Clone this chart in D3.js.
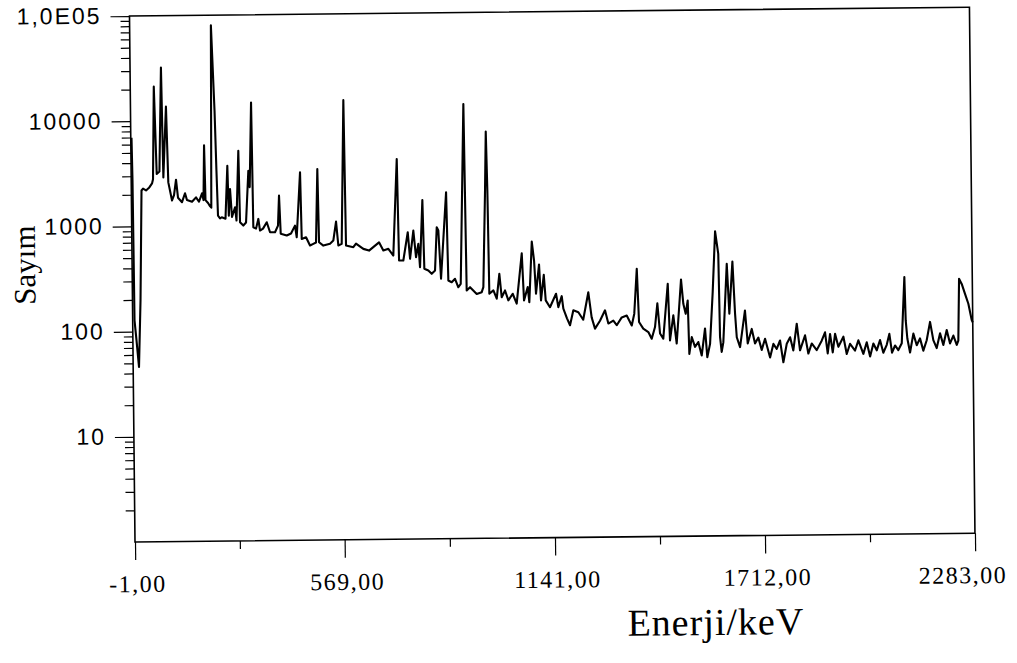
<!DOCTYPE html>
<html>
<head>
<meta charset="utf-8">
<script src="https://cdn.jsdelivr.net/npm/d3@7"></script>
<style>
  body { margin: 0; background: #fff; }
  svg { display: block; }
</style>
</head>
<body>
<div id="chart"></div>
<script>
// spectrum: energy (keV) and counts
const energy = [
  1.0, 2.5, 3.3, 4.0, 8.8, 14.9, 20.9, 26.7, 30.9, 39, 47.2, 55.5, 58.3, 63, 68.5, 76, 83, 86.5,
  95.5, 99.8, 109.4, 115, 120.8, 125.8, 136.5, 144.9, 150, 163.7, 174.7, 182.7, 191.1, 195, 198,
  200.4, 207.2, 212.5, 216, 220, 227.5, 231, 234, 239.4, 244, 254.3, 260.7, 263.4, 267.4, 272,
  280.5, 284.2, 291, 293.7, 302.5, 310, 317.7, 321, 327, 329.7, 337, 343.5, 347.8, 356, 366.3,
  375, 388.5, 396.8, 400.4, 404, 420.3, 432, 443, 447.4, 458.2, 461, 472.7, 483.3, 492.3, 499.7,
  505.3, 508, 519.5, 537.7, 546.8, 554.7, 560.3, 569.5, 578, 581.2, 601, 608.4, 628.2, 643.6,
  671, 682.5, 696.2, 709.5, 721.5, 725, 736.6, 749.4, 754.9, 764.6, 771.2, 777.8, 781.8, 790,
  793.5, 804.3, 813.4, 822.5, 828.3, 832.6, 838.6, 854.7, 858.4, 867.5, 876.6, 885.4, 892, 904.2,
  908, 917.2, 935.2, 948.8, 953.4, 960.7, 964.3, 967, 969.5, 980.6, 989.5, 997.2, 1003, 1012.3,
  1021, 1033, 1043.6, 1058.7, 1063.6, 1074, 1078, 1086.3, 1092, 1096.4, 1105.4, 1109.8, 1118,
  1122.6, 1134, 1150.8, 1156.7, 1166.2, 1170.3, 1179.9, 1188, 1197.4, 1211, 1224, 1238.6, 1247,
  1255.8, 1269.6, 1283.5, 1292.2, 1305.8, 1315, 1328.8, 1342.4, 1355.8, 1363, 1371, 1375.7, 1387,
  1400.7, 1409.7, 1419, 1426, 1432.5, 1441.2, 1454.8, 1459.4, 1469.1, 1477.5, 1491, 1496.6,
  1502.8, 1508.6, 1511.6, 1518.6, 1527.2, 1536.3, 1545.2, 1554.9, 1560.3, 1568.2, 1576.8, 1585,
  1593, 1595.5, 1599.6, 1604.3, 1615.8, 1621.5, 1631.2, 1637, 1641, 1649.7, 1664, 1670.6, 1681.9,
  1690.5, 1699.7, 1708.5, 1717.8, 1731, 1740.3, 1749.3, 1758.5, 1767, 1776.7, 1786, 1794.4,
  1804.4, 1812.6, 1826.7, 1835.1, 1844.6, 1858, 1871.8, 1881.1, 1887.8, 1894.7, 1901.5, 1908.3,
  1917, 1930.9, 1939.5, 1948.8, 1962.2, 1971.5, 1984.7, 1994.2, 2003, 2012.2, 2021.2, 2030.4,
  2039, 2048.5, 2055.9, 2062.7, 2071.1, 2079.9, 2089.4, 2098.3, 2100.8, 2104.7, 2111.7, 2121.2,
  2130.1, 2139.1, 2147.9, 2157.3, 2166.9, 2175.3, 2184.3, 2193.8, 2202.4, 2212, 2220.7, 2229.9,
  2238.9, 2243.3, 2247, 2254.1, 2262.8, 2271.6, 2280.3, 2283
];
const counts = [
  6960, 2720, 589, 128, 83, 46, 198, 2190, 2280, 2190, 2320, 2550, 2790, 21200, 3135, 3300, 32100, 2900,
  13700, 2600, 1750, 1960, 2750, 1850, 1680, 2040, 1760, 1690, 1860, 1690, 2030, 1750, 5800,
  1750, 1640, 1530, 1480, 80200, 12400, 3320, 1240, 1170, 1196, 1160, 3690, 1239, 2220, 1200,
  1485, 1111, 5115, 1067, 993, 1060, 3296, 2300, 14650, 955, 926, 1145, 887, 925, 1062,
  853, 851, 983, 1897, 822, 790, 826, 980, 759, 3141, 731, 757, 632, 655, 675,
  3367, 678, 629, 653, 700, 1062, 628, 650, 15100, 626, 603, 653, 580, 558,
  667, 557, 577, 498, 4120, 446, 446, 826, 462, 857, 477, 639, 383, 1670,
  370, 356, 331, 355, 914, 851, 296, 1960, 285, 274, 295, 245, 264, 13500,
  228, 245, 211, 219, 244, 2018, 7365, 2018, 211, 227, 189, 326, 195, 226,
  182, 210, 169, 508, 181, 242, 174, 655, 432, 209, 396, 180, 315,
  180, 155, 208, 155, 197, 150, 121, 104, 144, 138, 117, 213, 123,
  96, 114, 143, 107, 114, 103, 122, 127, 102, 132, 352, 110, 95,
  88, 76, 98, 165, 85, 76, 252, 73, 126, 68, 276, 162,
  130, 174, 54, 78, 63, 70, 52, 94, 50, 67, 208, 785,
  480, 78, 56, 69, 385, 129, 404, 129, 77, 62, 138, 67, 92,
  67, 76, 58, 74, 49, 66, 59, 71, 44, 66, 76, 57,
  102, 57, 79, 53, 66, 57, 70, 84, 53, 81, 54, 81,
  61, 76, 52, 65, 56, 70, 52, 67, 49, 65, 56, 70,
  53, 63, 80, 53, 62, 56, 65, 276, 107, 72, 53, 80,
  62, 72, 55, 69, 103, 69, 58, 80, 62, 86, 64, 76,
  62, 68, 263, 235, 189, 152, 106, 101
];

const xTickValues = [-1, 569, 1141, 1712, 2283];
const xTickLabels = ["-1,00", "569,00", "1141,00", "1712,00", "2283,00"];
const xMinorValues = [284, 855, 1426.5, 1997.5];
const yTickValues = [10, 100, 1000, 10000, 100000];
const yTickLabels = ["10", "100", "1000", "10000", "1,0E05"];

const margin = {top: 16, right: 42, bottom: 121, left: 135};
const width = 1017 - margin.left - margin.right;   // 840
const height = 663 - margin.top - margin.bottom;   // 526

const svg = d3.select("#chart").append("svg")
    .attr("width", 1017)
    .attr("height", 663);

// the scan is slightly tilted, rotate everything around the lower-left corner
const g = svg.append("g")
    .attr("transform", "rotate(-0.6," + margin.left + "," + (margin.top + height) + ") translate(" + margin.left + "," + margin.top + ")");

const x = d3.scaleLinear().domain([-1, 2283]).range([0, width]);
const y = d3.scaleLog().domain([1, 100000]).range([height, 0]);

// minor log ticks 2..9 for each decade
let yMinorValues = [];
[1, 10, 100, 1000, 10000].forEach(dec => {
    for (let k = 2; k <= 9; k++) yMinorValues.push(dec * k);
});

const serif = "'Liberation Serif', 'Times New Roman', serif";
const sans = "'Liberation Sans', Arial, sans-serif";

// y axis
g.append("g")
    .call(d3.axisLeft(y).tickValues(yMinorValues).tickSize(9).tickFormat(""))
    .call(a => a.select(".domain").remove());

const yAxis = g.append("g")
    .call(d3.axisLeft(y).tickValues(yTickValues).tickSize(19).tickPadding(9)
        .tickFormat((d, i) => yTickLabels[i]));
yAxis.select(".domain").remove();
yAxis.selectAll("text")
    .attr("dy", "0.30em")
    .style("font-family", sans)
    .style("font-size", "23px")
    .style("letter-spacing", "2px")
    .attr("fill", "#000");

// x axis
g.append("g")
    .attr("transform", "translate(0," + height + ")")
    .call(d3.axisBottom(x).tickValues(xMinorValues).tickSize(8).tickFormat(""))
    .call(a => a.select(".domain").remove());

const xAxis = g.append("g")
    .attr("transform", "translate(0," + height + ")")
    .call(d3.axisBottom(x).tickValues(xTickValues).tickSize(18)
        .tickFormat((d, i) => xTickLabels[i]));
xAxis.select(".domain").remove();
xAxis.selectAll("text")
    .attr("y", 50)
    .attr("dy", null)
    .attr("dx", (d, i) => i === xTickValues.length - 1 ? -13 : 2)
    .style("font-family", serif)
    .style("font-size", "24px")
    .style("letter-spacing", "1.5px")
    .attr("fill", "#000");

g.selectAll(".tick line").attr("stroke", "#000").attr("stroke-width", 1.2);

// frame
g.append("rect")
    .attr("x", 0)
    .attr("y", 0)
    .attr("width", width)
    .attr("height", height)
    .attr("fill", "none")
    .attr("stroke", "#000")
    .attr("stroke-width", 1.6);

// spectrum
const spectrum = energy.map((e, i) => ({e: e, c: counts[i]}));
const line = d3.line()
    .x(d => x(d.e))
    .y(d => y(d.c));

g.append("path")
    .datum(spectrum)
    .attr("d", line)
    .attr("fill", "none")
    .attr("stroke", "#000")
    .attr("stroke-width", 2.1)
    .attr("stroke-linejoin", "round");

// axis titles
g.append("text")
    .attr("transform", "translate(" + (38 - margin.left) + "," + (264 - margin.top) + ") rotate(-90)")
    .attr("text-anchor", "middle")
    .style("font-family", serif)
    .style("font-size", "31px")
    .attr("fill", "#000")
    .text("Sayım");

g.append("text")
    .attr("x", 715 - margin.left)
    .attr("y", 641 - margin.top)
    .attr("text-anchor", "middle")
    .style("font-family", serif)
    .style("font-size", "38px")
    .style("letter-spacing", "1px")
    .attr("fill", "#000")
    .text("Enerji/keV");
</script>
</body>
</html>
